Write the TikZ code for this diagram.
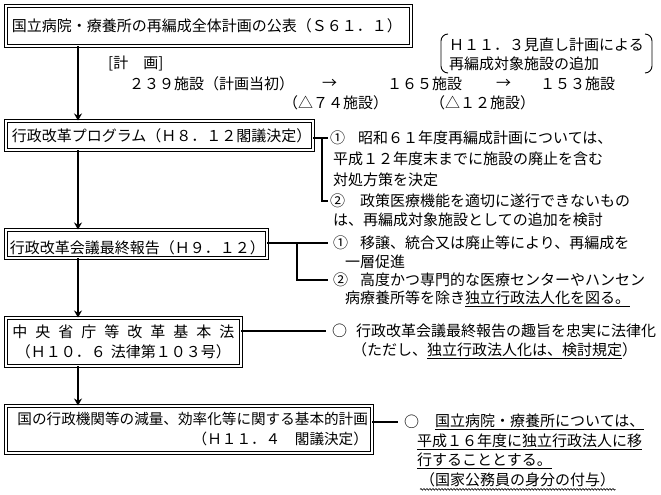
\documentclass[tikz,border=0pt]{standalone}
\usepackage{fontspec}
\newfontfamily\jp{Noto Sans CJK JP}
\usetikzlibrary{arrows.meta,decorations.pathmorphing}
\newcommand{\jpf}{\jp\fontsize{15}{20}\selectfont}
\newcommand{\jps}{\jp\fontsize{14.6}{20}\selectfont}
\newcommand{\gp}{\hspace{8pt}}
\tikzset{
  boxnode/.style={draw, double, double distance=2pt, line width=0.8pt, anchor=north west,
    inner xsep=4pt, inner ysep=0pt, font=\jpf, align=left},
  txt/.style={anchor=west, inner sep=0pt, font=\jpf},
  conn/.style={line width=1.8pt},
  arr/.style={line width=1.8pt, -{Stealth[length=7pt,width=8pt]}},
}
\begin{document}
\begin{tikzpicture}[x=1pt,y=-1pt]
\useasboundingbox[fill=white] (0,0) rectangle (661,495);
\coordinate (ax) at (78,0);

% boxes
\node[boxnode, text width=397pt, minimum height=40pt] (b1) at (5.5,5.5)
  {\hspace{2pt}国立病院・療養所の再編成全体計画の公表（Ｓ６１．１）};
\node[boxnode, text width=299pt, minimum height=29pt] (b2) at (5.5,120.5)
  {\hspace{2pt}行政改革プログラム（Ｈ８．１２閣議決定）};
\node[boxnode, text width=253pt, minimum height=28pt] (b3) at (5.5,229.5)
  {\hspace{2pt}行政改革会議最終報告（Ｈ９．１２）};
\node[boxnode, text width=227pt, minimum height=48pt, align=center] (b4) at (5.5,317.5)
  {中\gp 央\gp 省\gp 庁\gp 等\gp 改\gp 革\gp 基\gp 本\gp 法\\（Ｈ１０．６ 法律第１０３号）};
\node[boxnode, text width=358pt, minimum height=47pt, align=right, font=\jps] (b5) at (5.5,405.5)
  {国の行政機関等の減量、効率化等に関する基本的計画\\（Ｈ１１．４　閣議決定）};

% vertical arrows
\draw[arr] (b1.south -| ax) -- (b2.north -| ax);
\draw[arr] (b2.south -| ax) -- (b3.north -| ax);
\draw[arr] (b3.south -| ax) -- (b4.north -| ax);
\draw[arr] (b4.south -| ax) -- (b5.north -| ax);

% plan figures
\node[txt] (kei) at (108,63) {[計　画]};
\node[txt] (n239) at (129,84) {２３９施設（計画当初）};
\node[txt] (ar1) at (322,84) {→};
\node[txt] (n165) at (387,84) {１６５施設};
\node[txt] (ar2) at (496,84) {→};
\node[txt] (n153) at (540,84) {１５３施設};
\node[txt] (d74) at (283,103) {（△７４施設）};
\node[txt] (d12) at (430,103) {（△１２施設）};
\node[txt] (note1) at (449,45) {Ｈ１１．３見直し計画による};
\node[txt] (note2) at (449,64) {再編成対象施設の追加};
\draw[line width=0.9pt] (448,34) to[out=180,in=90] (441,41) -- (441,66) to[out=-90,in=180] (448,73);
\draw[line width=0.9pt] (645,34) to[out=0,in=90] (652,41) -- (652,66) to[out=-90,in=0] (645,73);

% box 2 items
\coordinate (c2a) at (328,138);
\coordinate (c2v) at (322,138);
\coordinate (c2b) at (328,201);
\draw[conn] (b2.east |- c2a) -- (c2a);
\draw[conn] (c2v) |- (c2b);
\node[txt] (i2a) at (330,138) {①};
\node[txt] (t2a) at (358,138) {昭和６１年度再編成計画については、};
\node[txt] (t2b) at (333,159) {平成１２年度末までに施設の廃止を含む};
\node[txt] (t2c) at (333,180) {対処方策を決定};
\node[txt] (i2b) at (330,201) {②};
\node[txt] (t2d) at (360,201) {政策医療機能を適切に遂行できないもの};
\node[txt] (t2e) at (333,220) {は、再編成対象施設としての追加を検討};

% box 3 items
\coordinate (c3a) at (328,243);
\coordinate (c3v) at (297,243);
\coordinate (c3b) at (328,280);
\draw[conn] (b3.east |- c3a) -- (c3a);
\draw[conn] (c3v) |- (c3b);
\node[txt] (i3a) at (333,243) {①};
\node[txt] (t3a) at (360,243) {移譲、統合又は廃止等により、再編成を};
\node[txt] (t3b) at (345,262) {一層促進};
\node[txt] (i3b) at (333,280) {②};
\node[txt] (t3c) at (360,280) {高度かつ専門的な医療センターやハンセン};
\node[txt] (t3d) at (345,299) {病療養所等を除き\underline{独立行政法人化を図る。}};

% box 4 items
\coordinate (c4a) at (326,331);
\draw[conn] (b4.east |- c4a) -- (c4a);
\node[txt] (i4a) at (332,331) {○};
\node[txt] (t4a) at (356,331) {行政改革会議最終報告の趣旨を忠実に法律化};
\node[txt] (t4b) at (352,351) {（ただし、\underline{独立行政法人化は、検討規定}）};

% box 5 items
\coordinate (c5a) at (398,422);
\draw[conn] (b5.east |- c5a) -- (c5a);
\node[txt] (i5a) at (404,422) {○};
\node[txt] (t5a) at (435,422) {\underline{国立病院・療養所については、}};
\node[txt] (t5b) at (417,442) {\underline{平成１６年度に独立行政法人に移}};
\node[txt] (t5c) at (417,461) {\underline{行することとする。}};
\node[txt] (t5d) at (420,480) {（国家公務員の身分の付与）};
\draw[line width=0.6pt, decorate, decoration={snake, amplitude=0.8pt, segment length=3pt}]
  ([yshift=-2pt]t5d.south west) -- ([yshift=-2pt]t5d.south east);
\end{tikzpicture}
\end{document}
